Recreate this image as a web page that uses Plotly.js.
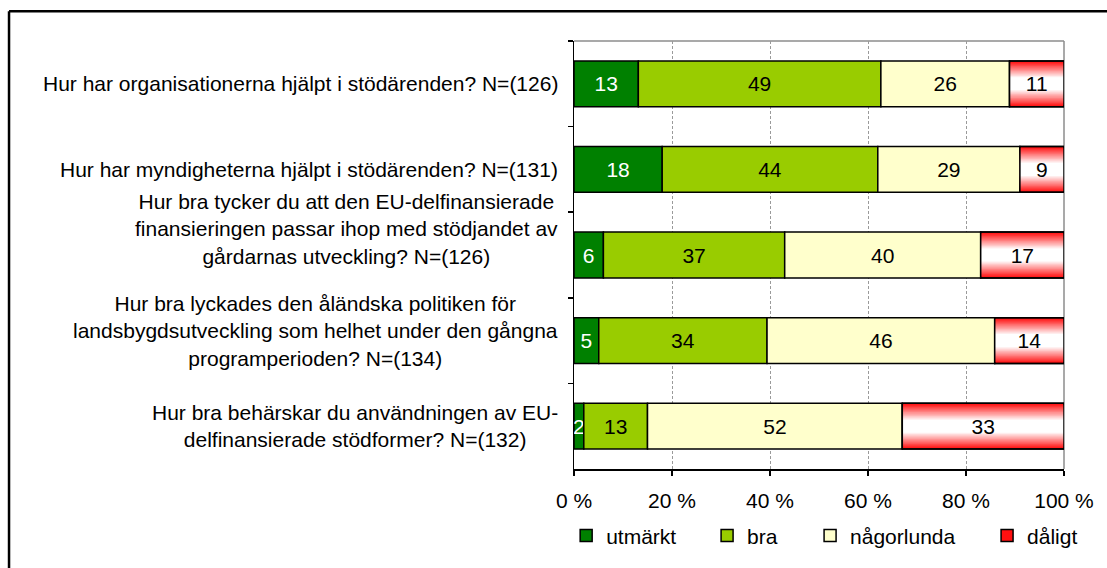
<!DOCTYPE html>
<html><head><meta charset="utf-8">
<script src="https://cdn.plot.ly/plotly-3.0.1.min.js"></script>
<style>body{margin:0;background:#fff}</style></head>
<body>
<div id="chart" style="width:1107px;height:568px"></div>
<script>
const categories = [
  'Hur har organisationerna hjälpt i stödärenden? N=(126)',
  'Hur har myndigheterna hjälpt i stödärenden? N=(131)',
  'Hur bra tycker du att den EU-delfinansierade<br>finansieringen passar ihop med stödjandet av<br>gårdarnas utveckling? N=(126)',
  'Hur bra lyckades den åländska politiken för<br>landsbygdsutveckling som helhet under den gångna<br>programperioden? N=(134)',
  'Hur bra behärskar du användningen av EU-<br>delfinansierade stödformer? N=(132)'
];
const seriesNames = ['utmärkt', 'bra', 'någorlunda', 'dåligt'];
const utmarkt    = [13, 18, 6, 5, 2];
const bra        = [49, 44, 37, 34, 13];
const nagorlunda = [26, 29, 40, 46, 52];
const daligt     = [11, 9, 17, 14, 33];
const xTickValues = [0, 20, 40, 60, 80, 100];
const xTickLabels = ['0 %', '20 %', '40 %', '60 %', '80 %', '100 %'];

const series = [utmarkt, bra, nagorlunda, daligt];
const colors = ['#008000', '#99CC00', '#FFFFCC', '#FF1010'];
const textColors = ['#FFFFFF', '#000000', '#000000', '#000000'];
const legendIds = ['legend', 'legend2', 'legend3', 'legend4'];
const labelYShift = [0, 0, 26, 10, 0];
const FONT = 'Liberation Sans, Arial, sans-serif';
const FS = 21;
const BW = 0.535;

// 100 % stacked: percentages via cumulative sums so the last segment ends at 100
const totals = categories.map((c, j) => series.reduce((s, a) => s + a[j], 0));
const cum = series.map((a, i) => categories.map((c, j) => {
  let s = 0; for (let k = 0; k <= i; k++) s += series[k][j]; return s / totals[j] * 100;
}));
const bases = series.map((a, i) => categories.map((c, j) => i === 0 ? 0 : cum[i - 1][j]));
const pct = series.map((a, i) => categories.map((c, j) => cum[i][j] - bases[i][j]));

const traces = [];
for (let i = 0; i < 3; i++) {
  traces.push({
    type: 'bar', orientation: 'h', name: seriesNames[i],
    y: categories, x: pct[i], base: bases[i], width: BW,
    marker: {color: colors[i], line: {color: '#000', width: 1.5}},
    text: series[i].map(String), textposition: 'inside', insidetextanchor: 'middle',
    constraintext: 'none', textangle: 0, cliponaxis: false,
    textfont: {family: FONT, size: FS, color: textColors[i]},
    hoverinfo: 'skip', legend: legendIds[i]
  });
}
// dåligt: red bar, vertical gradient layers towards white centre, outline + text on top
traces.push({
  type: 'bar', orientation: 'h', name: seriesNames[3],
  y: categories, x: pct[3], base: bases[3], width: BW,
  marker: {color: colors[3], line: {color: '#000', width: 1.5}},
  cliponaxis: false, hoverinfo: 'skip', legend: legendIds[3]
});
const NL = 14;
for (let k = 1; k <= NL; k++) {
  const f = 1 - k * 0.055;
  const w = Math.min(1, k / (NL - 1));
  const gb = Math.round(16 + (255 - 16) * w);
  traces.push({
    type: 'bar', orientation: 'h', showlegend: false,
    y: categories, x: pct[3], base: bases[3], width: BW * f,
    marker: {color: 'rgb(255,' + gb + ',' + gb + ')', line: {width: 0}},
    cliponaxis: false, hoverinfo: 'skip'
  });
}
traces.push({
  type: 'bar', orientation: 'h', showlegend: false,
  y: categories, x: pct[3], base: bases[3], width: BW,
  marker: {color: 'rgba(0,0,0,0)', line: {color: '#000', width: 1.5}},
  text: series[3].map(String), textposition: 'inside', insidetextanchor: 'middle',
  constraintext: 'none', textangle: 0, cliponaxis: false,
  textfont: {family: FONT, size: FS, color: textColors[3]}, hoverinfo: 'skip'
});

const legendX = [-0.016, 0.2716, 0.4818, 0.843];
const legends = {};
legendIds.forEach((id, i) => {
  legends[id] = {orientation: 'h', x: legendX[i], xanchor: 'left', y: -0.156, yanchor: 'middle',
    font: {family: FONT, size: FS, color: '#000'}, bgcolor: 'rgba(0,0,0,0)', borderwidth: 0};
});

const annotations = categories.map((c, j) => ({
  xref: 'paper', x: 0, xanchor: 'right', xshift: -14, yref: 'y', y: c, yanchor: 'middle',
  yshift: labelYShift[j],
  text: c, align: 'center', showarrow: false, font: {family: FONT, size: FS, color: '#000'}
}));

const layout = Object.assign({
  width: 1107, height: 568,
  margin: {l: 574, r: 43, t: 41, b: 97},
  paper_bgcolor: '#fff', plot_bgcolor: '#fff',
  barmode: 'overlay',
  font: {family: FONT, size: FS, color: '#000'},
  xaxis: {range: [0, 100.0001], tickvals: xTickValues, ticktext: xTickLabels,
    showgrid: true, gridcolor: '#9a9a9a', gridwidth: 1, griddash: '3px,2px',
    zeroline: false, showline: true, linecolor: '#000', linewidth: 1.5,
    ticks: 'outside', ticklen: 5, tickcolor: '#000', tickwidth: 1.5,
    ticklabelstandoff: 7, tickfont: {family: FONT, size: FS, color: '#000'}, fixedrange: true},
  yaxis: {type: 'category', categoryorder: 'array', categoryarray: categories,
    autorange: 'reversed', showticklabels: false, tickson: 'boundaries',
    ticks: 'outside', ticklen: 5, tickcolor: '#000', tickwidth: 1.5,
    showgrid: false, zeroline: false, showline: true, linecolor: '#000', linewidth: 1.5, fixedrange: true},
  annotations: annotations,
  shapes: [
    {type: 'line', xref: 'paper', yref: 'paper', x0: 0, x1: 1, y0: 1, y1: 1, line: {color: '#8c8c8c', width: 1.5}, layer: 'below'},
    {type: 'line', xref: 'paper', yref: 'paper', x0: 1, x1: 1, y0: 0, y1: 1, line: {color: '#8c8c8c', width: 1.5}, layer: 'below'},
    {type: 'line', xref: 'paper', yref: 'paper', x0: -1.153, x1: -1.153, y0: 1.0698, y1: -0.3, line: {color: '#000', width: 2.5}},
    {type: 'line', xref: 'paper', yref: 'paper', x0: -1.153, x1: 1.3, y0: 1.0698, y1: 1.0698, line: {color: '#000', width: 2.5}}
  ],
  showlegend: true
}, legends);

Plotly.newPlot('chart', traces, layout, {displayModeBar: false, staticPlot: true});
</script>
</body></html>
